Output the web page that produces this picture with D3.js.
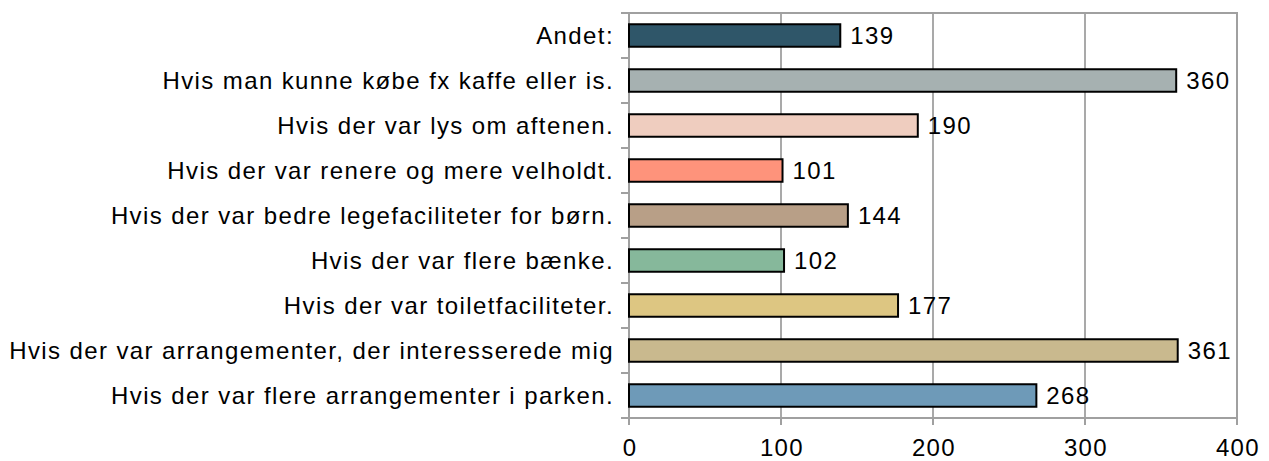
<!DOCTYPE html>
<html lang="da">
<head>
<meta charset="UTF-8">
<title>Bar chart</title>
<script src="https://cdn.jsdelivr.net/npm/d3@7"></script>
<style>
  body { margin: 0; background: #fff; font-family: 'Liberation Sans', Arial, sans-serif; }
  text { letter-spacing: 1.4px; }
</style>
</head>
<body>
<svg id="chart"></svg>
<script>
const categories = [
  'Andet:',
  'Hvis man kunne købe fx kaffe eller is.',
  'Hvis der var lys om aftenen.',
  'Hvis der var renere og mere velholdt.',
  'Hvis der var bedre legefaciliteter for børn.',
  'Hvis der var flere bænke.',
  'Hvis der var toiletfaciliteter.',
  'Hvis der var arrangementer, der interesserede mig',
  'Hvis der var flere arrangementer i parken.'
];
const values = [139, 360, 190, 101, 144, 102, 177, 361, 268];
const colors = ['#2f5669', '#a6b1b1', '#efcdbf', '#fe937b', '#b89f87', '#86b89b', '#ddc682', '#c9b98e', '#6e9ab8'];
const xTicks = [0, 100, 200, 300, 400];

const W = 1269, H = 461;
const margin = { top: 13, right: 32, bottom: 43, left: 629 };
const width = W - margin.left - margin.right;
const height = H - margin.top - margin.bottom;

const svg = d3.select('#chart').attr('width', W).attr('height', H);
const g = svg.append('g').attr('transform', `translate(${margin.left},${margin.top})`);

const x = d3.scaleLinear().domain([0, 400]).range([0, width]);
const y = d3.scaleBand().domain(categories).range([0, height]).paddingInner(0.5).paddingOuter(0.25);
const band = height / categories.length;

// gridlines
g.selectAll('.grid').data(xTicks.slice(1, -1)).enter().append('line')
  .attr('x1', d => x(d)).attr('x2', d => x(d))
  .attr('y1', 0).attr('y2', height)
  .attr('stroke', '#8c8c8c').attr('stroke-width', 1.5);

// frame
g.append('rect').attr('x', 0).attr('y', 0).attr('width', width).attr('height', height)
  .attr('fill', 'none').attr('stroke', '#a0a0a0').attr('stroke-width', 2);

// y tick marks at band boundaries
g.selectAll('.ytick').data(d3.range(categories.length + 1)).enter().append('line')
  .attr('x1', -8).attr('x2', 0)
  .attr('y1', d => d * band).attr('y2', d => d * band)
  .attr('stroke', '#a0a0a0').attr('stroke-width', 2);

// x tick marks
g.selectAll('.xtick').data(xTicks).enter().append('line')
  .attr('x1', d => x(d)).attr('x2', d => x(d))
  .attr('y1', height).attr('y2', height + 7)
  .attr('stroke', '#a0a0a0').attr('stroke-width', 2);

// bars
g.selectAll('.bar').data(values).enter().append('rect')
  .attr('x', 0)
  .attr('y', (d, i) => y(categories[i]))
  .attr('width', d => x(d))
  .attr('height', y.bandwidth())
  .attr('fill', (d, i) => colors[i])
  .attr('stroke', '#000').attr('stroke-width', 2);

// value labels
g.selectAll('.val').data(values).enter().append('text')
  .attr('x', d => x(d) + 10)
  .attr('y', (d, i) => y(categories[i]) + y.bandwidth() / 2)
  .attr('dy', '0.36em')
  .attr('font-size', 24)
  .attr('fill', '#000')
  .text(d => d);

// category labels
g.selectAll('.cat').data(categories).enter().append('text')
  .attr('x', -15)
  .attr('y', d => y(d) + y.bandwidth() / 2)
  .attr('dy', '0.36em')
  .attr('text-anchor', 'end')
  .attr('font-size', 24)
  .attr('fill', '#000')
  .text(d => d);

// x tick labels
g.selectAll('.xlab').data(xTicks).enter().append('text')
  .attr('x', d => x(d) + 1)
  .attr('y', height + 29)
  .attr('dy', '0.36em')
  .attr('text-anchor', 'middle')
  .attr('font-size', 24)
  .attr('fill', '#000')
  .text(d => d);
</script>
</body>
</html>
